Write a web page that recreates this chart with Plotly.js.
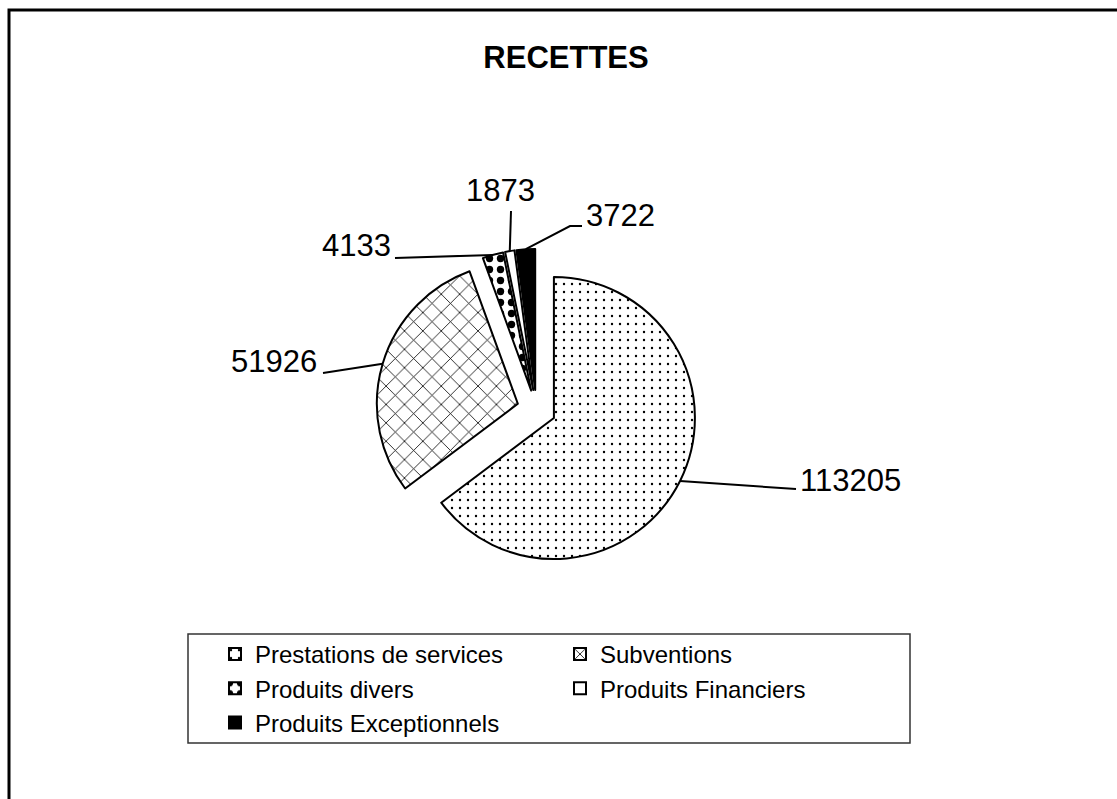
<!DOCTYPE html>
<html>
<head>
<meta charset="utf-8">
<script src="https://cdn.plot.ly/plotly-3.0.1.min.js"></script>
<style>html,body{margin:0;padding:0;background:#fff;}#chart{width:1117px;height:799px;}</style>
</head>
<body>
<div id="chart"></div>
<script>
// ---- data ----
const categories = ["Prestations de services", "Subventions", "Produits divers", "Produits Financiers", "Produits Exceptionnels"];
const values = [113205, 51926, 4133, 1873, 3722];
const chartTitle = "RECETTES";

// ---- layout geometry (pixels) ----
const W = 1117, H = 799, ML = 188, MR = 207, MT = 0, MB = 0;
const PW = W - ML - MR, PH = H - MT - MB;
const X = px => (px - ML) / PW;
const Y = py => 1 - (py - MT) / PH;

const CX = 536.5, CY = 409.3, R = 141, PULL = 0.138;
const half = R * (1 + PULL);

const FONT = "Liberation Sans, Arial, sans-serif";

// label placement (layout only): end of leader line, optional elbow, text anchor
const labelPlace = [
  {end: [796, 489], elbow: null, tx: 798, ty: 480, xa: "left"},
  {end: [323, 373], elbow: null, tx: 319, ty: 361, xa: "right"},
  {end: [395, 258], elbow: null, tx: 393, ty: 245, xa: "right"},
  {end: [511, 211], elbow: null, tx: 500, ty: 191, xa: "center"},
  {end: [582, 226], elbow: [570, 226], tx: 584, ty: 215, xa: "left"}
];

const total = values.reduce((a, b) => a + b, 0);
const shapes = [];
const annotations = [];
let cum = 0;
values.forEach((v, i) => {
  const mid = (cum + v / 2) / total * 2 * Math.PI; // clockwise from top
  cum += v;
  const dx = Math.sin(mid), dy = -Math.cos(mid);
  const px = CX + dx * R * (1 + PULL), py = CY + dy * R * (1 + PULL);
  const L = labelPlace[i];
  let path = `M${X(px)},${Y(py)}`;
  if (L.elbow) path += ` L${X(L.elbow[0])},${Y(L.elbow[1])}`;
  path += ` L${X(L.end[0])},${Y(L.end[1])}`;
  shapes.push({type: "path", xref: "paper", yref: "paper", path: path,
    line: {color: "#000", width: 2}});
  annotations.push({xref: "paper", yref: "paper", x: X(L.tx), y: Y(L.ty),
    xanchor: L.xa, yanchor: "middle", showarrow: false, text: String(v),
    font: {family: FONT, size: 31, color: "#000"}});
});

// outer frame and legend frame
shapes.push({type: "rect", xref: "paper", yref: "paper", x0: X(9), y0: Y(10), x1: X(1130), y1: Y(815),
  line: {color: "#000", width: 3}, fillcolor: "rgba(0,0,0,0)"});
shapes.push({type: "rect", xref: "paper", yref: "paper", x0: X(188), y0: Y(634), x1: X(910), y1: Y(743),
  line: {color: "#333", width: 1.5}, fillcolor: "rgba(0,0,0,0)"});

const trace = {
  type: "pie",
  labels: categories,
  values: values,
  sort: false,
  direction: "clockwise",
  rotation: 0,
  pull: PULL,
  textinfo: "none",
  hoverinfo: "label+value",
  domain: {x: [X(CX - half), X(CX + half)], y: [Y(CY + half), Y(CY - half)]},
  marker: {
    colors: ["#fff", "#fff", "#fff", "#fff", "#000"],
    line: {color: "#000", width: 2},
    pattern: {
      shape: [".", "x", ".", "", ""],
      fgcolor: ["#000", "#000", "#000", "#000", "#000"],
      bgcolor: ["#fff", "#fff", "#fff", "#fff", "#000"],
      size: [8, 13, 11, 8, 8],
      solidity: [0.07, 0.12, 0.35, 0.1, 0.1],
      fillmode: "replace"
    }
  }
};

const layout = {
  width: W, height: H,
  margin: {l: ML, r: MR, t: MT, b: MB},
  paper_bgcolor: "#fff",
  plot_bgcolor: "#fff",
  title: {text: chartTitle, x: 566 / W, xref: "container", xanchor: "center",
    y: 1 - 57 / H, yref: "container", yanchor: "middle",
    font: {family: FONT, size: 31, color: "#000", weight: 700}},
  showlegend: true,
  legend: {
    orientation: "h", x: X(215), xanchor: "left", y: Y(632), yanchor: "top",
    entrywidth: 300, entrywidthmode: "pixels",
    font: {family: FONT, size: 24, color: "#000"},
    bgcolor: "rgba(0,0,0,0)", borderwidth: 0, traceorder: "normal"
  },
  shapes: shapes,
  annotations: annotations
};

Plotly.newPlot("chart", [trace], layout, {displayModeBar: false});
</script>
</body>
</html>
